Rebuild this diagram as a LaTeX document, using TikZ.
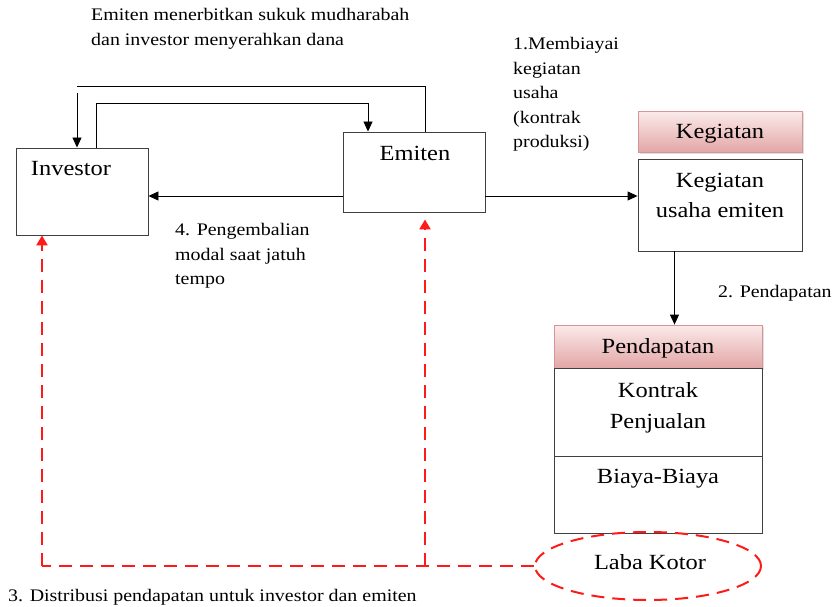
\documentclass[tikz,border=0pt]{standalone}
\usepackage{fontspec}
\setmainfont[FakeStretch=1.13]{Liberation Serif}
\usetikzlibrary{arrows.meta,shadows,shapes.geometric}
\definecolor{hdrtop}{HTML}{FBEAEA}
\definecolor{hdrbot}{HTML}{E3A6A6}
\definecolor{hdrline}{HTML}{D49696}
\definecolor{flowred}{HTML}{FF1A1A}
\begin{document}
\begin{tikzpicture}[x=1bp,y=-1bp,
  box/.style={draw=black!75,line width=0.9bp,fill=white,inner sep=0},
  header/.style={draw=hdrline,line width=0.8bp,top color=hdrtop,bottom color=hdrbot,
    drop shadow={shadow xshift=1.5bp,shadow yshift=-1.5bp,opacity=0.25},inner sep=0},
  flow/.style={line width=0.9bp,-{Triangle[length=10bp,width=9bp]}},
  plain/.style={line width=0.9bp},
  money/.style={draw=flowred,line width=2.4bp,dash pattern=on 13bp off 8bp},
  moneyarrow/.style={money,-{Triangle[length=10bp,width=11bp,fill=flowred]}},
  lbl/.style={font=\fontsize{17.7}{24.5}\selectfont,inner sep=0,anchor=base west},
  big/.style={font=\fontsize{21.7}{30}\selectfont,inner sep=0,anchor=base}]
\useasboundingbox (0,0) rectangle (836,607);

% main boxes
\node[box,minimum width=132bp,minimum height=87bp] (inv) at (82,191.5) {};
\node[big] (invt) at (71,176) {Investor};
\node[box,minimum width=142bp,minimum height=80bp] (emi) at (414,172) {};
\node[big] (emit) at (415,161) {Emiten};

\node[header,minimum width=164bp,minimum height=41bp] (kegh) at (720,132) {};
\node[big] (kegt) at (720,139) {Kegiatan};
\node[box,minimum width=164bp,minimum height=92bp] (keg) at (720,205) {};
\node[big] (keg1) at (720,188) {Kegiatan};
\node[big] (keg2) at (720,218) {usaha emiten};

\node[header,minimum width=208bp,minimum height=43bp] (pendh) at (658,346.5) {};
\node[big] (pendt) at (658,353) {Pendapatan};
\node[box,minimum width=208bp,minimum height=88bp] (kontrak) at (658,412) {};
\node[big] (kon1) at (658,397) {Kontrak};
\node[big] (kon2) at (658,428) {Penjualan};
\node[box,minimum width=208bp,minimum height=77bp] (biaya) at (658,494.5) {};
\node[big] (biat) at (658,483) {Biaya-Biaya};

\node[draw=flowred,line width=2bp,dash pattern=on 13bp off 8bp,ellipse,
  minimum width=226bp,minimum height=68bp,inner sep=0] (laba) at (648,566) {};
\node[big] (labat) at (650,569) {Laba Kotor};

% corner points of the loop above the boxes
\coordinate (o1) at (425,86);
\coordinate (o2) at (77,86);
\coordinate (o3) at (77,93);
\coordinate (i1) at (96,103);
\coordinate (i2) at (368,103);
\coordinate (r0) at (42,566);
\coordinate (r1) at (425,566);

% investor hands over funds, emiten issues sukuk
\draw[plain] (emi.north -| o1) -- (o1) -- (o2);
\draw[flow] (o3) -- (inv.north -| o3);
\draw[flow] (inv.north -| i1) -- (i1) -- (i2) -- (emi.north -| i2);

% emiten to investor and to business activity
\draw[flow] (emi.west |- 0,196) -- (inv.east |- 0,196);
\draw[flow] (emi.east |- 0,196) -- (keg.west |- 0,196);
\draw[flow] (keg.south -| 674.5,0) -- (pendh.north -| 674.5,0);

% distribution of gross profit
\draw[money] (laba.west) -- (r0);
\draw[moneyarrow] (r0) -- (inv.south -| r0);
\draw[moneyarrow] (r1) -- ([yshift=-7bp]emi.south -| r1);

% labels
\node[lbl] (l1a) at (91,21) {Emiten menerbitkan sukuk mudharabah};
\node[lbl] (l1b) at (91,45.5) {dan investor menyerahkan dana};
\node[lbl] (m1) at (513,50) {1.Membiayai};
\node[lbl] (m2) at (513,74.5) {kegiatan};
\node[lbl] (m3) at (513,99) {usaha};
\node[lbl] (m4) at (513,123.5) {(kontrak};
\node[lbl] (m5) at (513,148) {produksi)};
\node[lbl] (p1) at (175,235.5) {4. Pengembalian};
\node[lbl] (p2) at (175,260) {modal saat jatuh};
\node[lbl] (p3) at (175,284.5) {tempo};
\node[lbl] (d2) at (718,297) {2. Pendapatan};
\node[lbl] (d3) at (8,601.5) {3. Distribusi pendapatan untuk investor dan emiten};
\end{tikzpicture}
\end{document}
